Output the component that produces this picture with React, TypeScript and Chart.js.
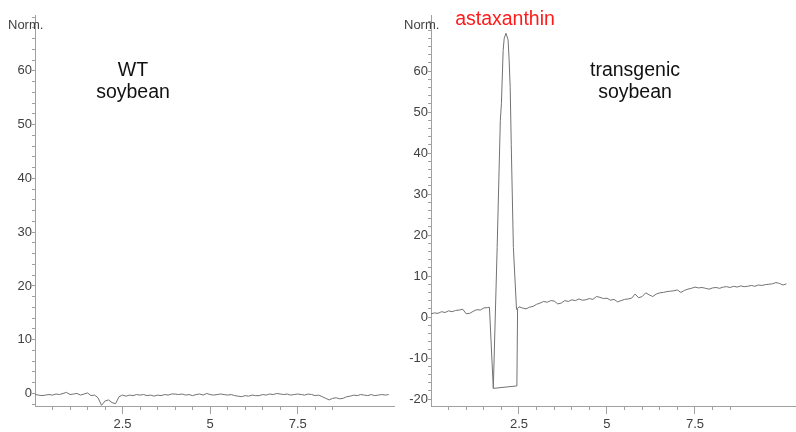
import React, { useEffect, useRef } from 'react';
import { Chart, registerables } from 'chart.js';

Chart.register(...registerables);

// ---- data (retention time in min, normalised signal) ----
const SAMPLE_STEP = 0.1;

// WT soybean trace, sampled every 0.1 min starting at 0
const wtSignal = [
  -0.2, -0.3, -0.4, -0.3, -0.2, -0.3, -0.1, -0.2, 0.0, 0.2,
  -0.2, -0.1, 0.0, -0.3, -0.1, 0.1, -0.4, -0.3, -0.8, -2.2,
  -1.4, -1.2, -1.7, -1.9, -0.6, -0.3, -0.5, -0.3, -0.4, -0.2,
  -0.3, -0.2, -0.4, -0.3, -0.5, -0.3, -0.4, -0.2, -0.3, -0.1,
  -0.1, -0.2, -0.1, -0.3, -0.2, -0.4, -0.2, -0.1, -0.3, 0.0,
  -0.2, -0.3, -0.2, -0.1, -0.2, -0.3, -0.2, -0.4, -0.5, -0.6,
  -0.4, -0.5, -0.3, -0.4, -0.4, -0.2, -0.3, -0.1, -0.2, 0.0,
  -0.1, -0.2, -0.1, -0.3, -0.2, -0.1, -0.2, -0.3, -0.1, -0.2,
  -0.4, -0.3, -0.6, -0.9, -1.2, -0.9, -0.8, -1.0, -0.9, -0.6,
  -0.5, -0.3, -0.4, -0.2, -0.3, -0.4, -0.2, -0.4, -0.3, -0.2,
  -0.3, -0.2,
];

// transgenic soybean trace: before the peak (0 .. 1.6 min, every 0.1)
const tgPreSignal = [0.8, 1.0, 0.9, 1.3, 1.1, 1.5, 1.3, 1.6, 1.7, 1.9, 0.8, 0.9, 1.4, 1.8, 1.7, 2.2, 2.3];
// negative artifact box under the peak
const tgArtifactTimes = [1.66, 1.77, 2.44, 2.46];
const tgArtifactValues = [2.4, -17.4, -16.8, 2.1];
// after the peak (2.5 .. 10.1 min, every 0.1)
const TG_POST_START = 2.5;
const tgPostSignal = [
  2.5, 2.2, 2.0, 2.4, 2.6, 3.1, 3.4, 3.8, 3.6, 4.0,
  3.9, 3.2, 3.4, 4.0, 3.8, 4.2, 4.0, 4.4, 4.1, 4.2,
  4.5, 4.3, 5.0, 4.8, 4.5, 4.6, 4.1, 4.3, 3.7, 4.0,
  4.3, 4.4, 4.6, 5.6, 4.7, 5.0, 5.9, 5.4, 5.0, 5.6,
  5.9, 6.0, 6.2, 6.3, 6.4, 6.6, 6.0, 6.5, 6.8, 7.0,
  7.3, 7.1, 7.2, 7.0, 6.8, 7.1, 7.2, 7.0, 7.3, 7.4,
  7.2, 7.5, 7.3, 7.6, 7.4, 7.5, 7.7, 7.5, 7.8, 7.7,
  7.9, 8.0, 8.1, 8.4, 8.2, 7.8, 8.1,
];
// astaxanthin peak
const peakTimes = [1.77, 1.88, 1.97, 2.0, 2.05, 2.08, 2.13, 2.19, 2.22, 2.25, 2.28, 2.34, 2.43];
const peakValues = [-17.4, 17, 48, 52, 65, 68, 69.2, 67.6, 62.7, 56, 42, 17, 1.8];

const xLabelValues = [2.5, 5, 7.5];
const yLabelValues = [-20, -10, 0, 10, 20, 30, 40, 50, 60];
const MINOR_TICK_LIMIT = 8.5;

// ---- styling ----
const AXIS_COLOR = '#a0a0a0';
const LINE_COLOR = '#727272';
const TEXT_COLOR = '#404040';
const FONT_FAMILY = '"Liberation Sans", Arial, sans-serif';

function toPoints(times: number[], values: number[]) {
  return values.map((v, i) => ({ x: times[i], y: v }));
}
function sampled(start: number, values: number[]) {
  return values.map((v, i) => ({ x: start + i * SAMPLE_STEP, y: v }));
}

function makeOptions(xMax: number, yMin: number, yMax: number, rightPad: number): any {
  const tickFont = { family: FONT_FAMILY, size: 13 };
  return {
    responsive: false,
    animation: false,
    events: [],
    layout: { padding: { left: 0, top: 15, bottom: 0, right: rightPad } },
    plugins: { legend: { display: false }, tooltip: { enabled: false }, title: { display: false } },
    elements: { point: { radius: 0 }, line: { tension: 0 } },
    scales: {
      x: {
        type: 'linear',
        position: 'bottom',
        min: 0,
        max: xMax,
        weight: 0,
        afterFit: (s: any) => { s.height = 0; },
        border: { display: true, color: AXIS_COLOR, width: 1 },
        grid: {
          drawOnChartArea: false,
          drawTicks: true,
          tickLength: 4,
          tickColor: (ctx: any) =>
            ctx.tick && ctx.tick.value > 0 && ctx.tick.value <= MINOR_TICK_LIMIT ? AXIS_COLOR : 'rgba(0,0,0,0)',
        },
        ticks: { display: false, stepSize: 0.5, autoSkip: false, includeBounds: false },
      },
      x2: {
        type: 'linear',
        position: 'bottom',
        min: 0,
        max: xMax,
        weight: 1,
        afterFit: (s: any) => { s.height = 26; },
        border: { display: false },
        grid: {
          drawOnChartArea: false,
          drawTicks: true,
          tickLength: 8,
          tickColor: (ctx: any) =>
            ctx.tick && xLabelValues.includes(ctx.tick.value) ? AXIS_COLOR : 'rgba(0,0,0,0)',
        },
        ticks: {
          stepSize: 2.5,
          autoSkip: false,
          includeBounds: false,
          maxRotation: 0,
          padding: 3,
          color: TEXT_COLOR,
          font: tickFont,
          callback: (v: any) => (xLabelValues.includes(v) ? String(v) : ''),
        },
      },
      y: {
        type: 'linear',
        position: 'left',
        min: yMin,
        max: yMax,
        afterFit: (s: any) => { s.width = 35; },
        border: { display: true, color: AXIS_COLOR, width: 1 },
        grid: { drawOnChartArea: false, drawTicks: true, tickLength: 3, tickColor: AXIS_COLOR },
        ticks: {
          stepSize: 2,
          autoSkip: false,
          includeBounds: false,
          padding: 0,
          color: TEXT_COLOR,
          font: tickFont,
          callback: (v: any) => (yLabelValues.includes(v) ? String(v) : ''),
        },
      },
    },
  };
}

function lineDataset(data: any[]) {
  return {
    data,
    borderColor: LINE_COLOR,
    borderWidth: 1,
    pointRadius: 0,
    fill: false,
    xAxisID: 'x',
    yAxisID: 'y',
  };
}

const textBase: React.CSSProperties = {
  position: 'absolute',
  fontFamily: FONT_FAMILY,
  whiteSpace: 'nowrap',
  margin: 0,
};

export default function App() {
  const leftRef = useRef<HTMLCanvasElement>(null);
  const rightRef = useRef<HTMLCanvasElement>(null);

  useEffect(() => {
    const left = new Chart(leftRef.current as HTMLCanvasElement, {
      type: 'line',
      data: { datasets: [lineDataset(sampled(0, wtSignal)) as any] },
      options: makeOptions(10.25, -2.33, 70.4, 2),
    });
    const tgBaseline = [
      ...sampled(0, tgPreSignal),
      ...toPoints(tgArtifactTimes, tgArtifactValues),
      ...sampled(TG_POST_START, tgPostSignal),
    ];
    const right = new Chart(rightRef.current as HTMLCanvasElement, {
      type: 'line',
      data: {
        datasets: [lineDataset(tgBaseline) as any, lineDataset(toPoints(peakTimes, peakValues)) as any],
      },
      options: makeOptions(10.37, -21.7, 73.66, 0),
    });
    return () => {
      left.destroy();
      right.destroy();
    };
  }, []);

  const big = 19.5;
  return (
    <div style={{ position: 'fixed', left: 0, top: 0, width: 796, height: 432, background: '#fff', overflow: 'hidden' }}>
      <canvas ref={leftRef} width={396} height={432} style={{ position: 'absolute', left: 0, top: 0, width: 396, height: 432 }} />
      <canvas ref={rightRef} width={400} height={432} style={{ position: 'absolute', left: 396, top: 0, width: 400, height: 432 }} />

      <div style={{ ...textBase, left: 8, top: 18.3, fontSize: 13, lineHeight: '13px', color: TEXT_COLOR }}>Norm.</div>
      <div style={{ ...textBase, left: 404, top: 18.3, fontSize: 13, lineHeight: '13px', color: TEXT_COLOR }}>Norm.</div>

      <div style={{ ...textBase, left: 33, width: 200, textAlign: 'center', top: 57.5, fontSize: big, lineHeight: '22px', color: '#111' }}>
        WT<br />soybean
      </div>
      <div style={{ ...textBase, left: 535, width: 200, textAlign: 'center', top: 57.5, fontSize: big, lineHeight: '22px', color: '#111' }}>
        transgenic<br />soybean
      </div>
      <div style={{ ...textBase, left: 405, width: 200, textAlign: 'center', top: 9, fontSize: big, lineHeight: `${big}px`, color: '#ff1a1a' }}>
        astaxanthin
      </div>
    </div>
  );
}
